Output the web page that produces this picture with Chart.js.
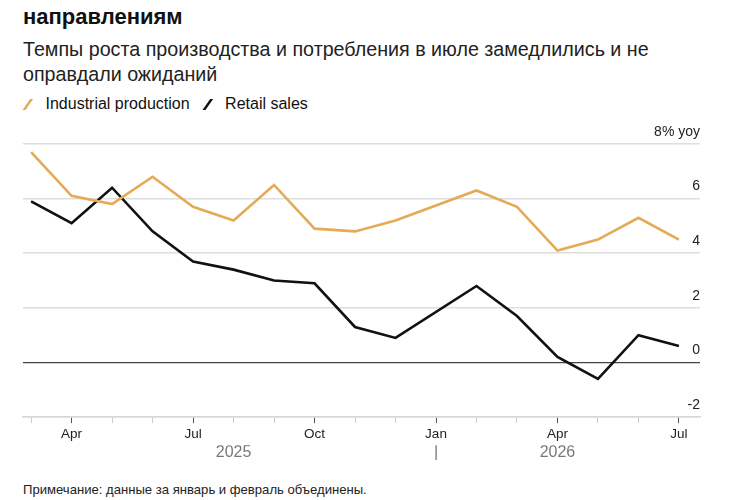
<!DOCTYPE html>
<html><head><meta charset="utf-8">
<script src="https://cdn.jsdelivr.net/npm/chart.js@4.4.1/dist/chart.umd.min.js"></script>
<style>
html,body{margin:0;padding:0;background:#fff}
body{width:750px;height:500px;position:relative;overflow:hidden;font-family:"Liberation Sans",Arial,sans-serif;color:#111}
#title{position:absolute;left:23px;top:3px;font-size:22px;font-weight:bold;line-height:28px;white-space:nowrap}
#sub{position:absolute;left:23px;top:37px;font-size:19.7px;line-height:25px;color:#222;white-space:nowrap}
#legend{position:absolute;left:23px;top:95px;font-size:16px;line-height:18px;color:#111;white-space:nowrap}
#legend span.item{margin-right:13px}
#legend span.mk{display:inline-block;width:2.5px;height:11px;transform:skewX(-35deg) translateY(1px);margin:0 16px 0 4px}
#note{position:absolute;left:23px;top:482px;font-size:13.1px;color:#222;white-space:nowrap}
#wrap{position:absolute;left:0;top:115px;width:750px;height:360px}
</style></head><body>
<div id="title">направлениям</div>
<div id="sub">Темпы роста производства и потребления в июле замедлились и не<br>оправдали ожиданий</div>
<div id="legend"><span class="item"><span class="mk" style="background:#e4aa55"></span>Industrial production</span><span class="item"><span class="mk" style="background:#111"></span>Retail sales</span></div>
<div id="wrap"><canvas id="c"></canvas></div>
<div id="note">Примечание: данные за январь и февраль объединены.</div>
<script>
const months = ['Mar','Apr','May','Jun','Jul','Aug','Sep','Oct','Nov','Dec','Jan','Feb','Mar','Apr','May','Jun','Jul'];
const industrial = [7.7,6.1,5.8,6.8,5.7,5.2,6.5,4.9,4.8,5.2,null,6.3,5.7,4.1,4.5,5.3,4.5];
const retail = [5.9,5.1,6.4,4.8,3.7,3.4,3.0,2.9,1.3,0.9,null,2.8,1.7,0.2,-0.6,1.0,0.6];
const labelledMonths = ['Apr','Jul','Oct','Jan'];
const yTicks = [-2,0,2,4,6,8];
const yearPos = [5,10,13];
const yearText = ['2025','|','2026'];

const pts = arr => arr.map((v,i)=>({x:i,y:v}));
const FONT = '"Liberation Sans", Arial, sans-serif';

new Chart(document.getElementById('c'), {
  type:'line',
  data:{datasets:[
    {label:'Industrial production',data:pts(industrial),borderColor:'#e4aa55',borderWidth:2.6,pointRadius:0,spanGaps:true,tension:0},
    {label:'Retail sales',data:pts(retail),borderColor:'#111',borderWidth:2.6,pointRadius:0,spanGaps:true,tension:0}
  ]},
  options:{
    responsive:true,maintainAspectRatio:false,animation:false,
    layout:{padding:{left:23,right:50,top:29,bottom:14.5}},
    plugins:{legend:{display:false},tooltip:{enabled:false}},
    scales:{
      x:{type:'linear',position:'bottom',min:-0.2,max:16.52,
        afterBuildTicks:ax=>{ax.ticks=months.map((m,i)=>({value:i}));},
        ticks:{autoSkip:false,maxRotation:0,padding:3,color:'#222',font:{family:FONT,size:13.5},
          callback:v=>labelledMonths.includes(months[v])?months[v]:''},
        grid:{drawOnChartArea:false,drawTicks:true,tickLength:6,lineWidth:1,
          tickColor:ctx=>labelledMonths.includes(months[ctx.tick&&ctx.tick.value])?'#555':'#ccc'},
        border:{display:true,color:'#d6d6d6',width:1.5}
      },
      x2:{type:'linear',position:'bottom',min:-0.2,max:16.52,
        afterBuildTicks:ax=>{ax.ticks=yearPos.map(v=>({value:v}));},
        ticks:{autoSkip:false,maxRotation:0,padding:-2,color:'#777',font:{family:FONT,size:16},
          callback:(v,i)=>yearText[i]},
        grid:{display:false,drawTicks:false,tickLength:0},border:{display:false}
      },
      y:{type:'linear',position:'right',min:-2,max:8,
        afterBuildTicks:ax=>{ax.ticks=yTicks.map(v=>({value:v}));},
        ticks:{mirror:true,padding:0,labelOffset:-12,color:'#222',font:{family:FONT,size:14},
          callback:v=>v===8?'8% yoy':String(v)},
        grid:{drawTicks:false,color:ctx=>ctx.tick&&ctx.tick.value===0?'#444':'#dedede',
          lineWidth:ctx=>ctx.tick&&ctx.tick.value===0?1.2:1.5},
        border:{display:false}
      }
    }
  }
});
</script>
</body></html>
